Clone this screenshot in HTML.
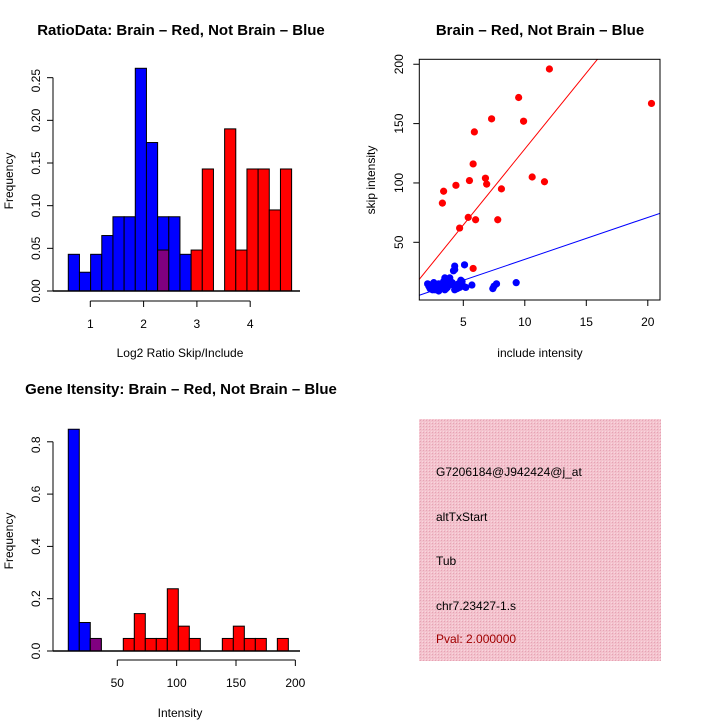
<!DOCTYPE html>
<html><head><meta charset="utf-8"><style>
body{margin:0;background:#fff}
svg text{font-family:"Liberation Sans",sans-serif;font-size:12px;fill:#000}
</style></head><body>
<svg id="s" width="720" height="720" viewBox="0 0 720 720" xmlns="http://www.w3.org/2000/svg">
<defs>
<pattern id="hatch" width="3" height="3" patternUnits="userSpaceOnUse">
<rect width="3" height="3" fill="#f3c2cd"/><rect width="1" height="1" fill="#e6a3b4"/><rect x="2" y="2" width="1" height="1" fill="#f9d6de"/>
</pattern>
</defs>
<text x="181" y="35" text-anchor="middle" font-weight="bold" style="font-size:15px">RatioData: Brain – Red, Not Brain – Blue</text>
<text x="540" y="35" text-anchor="middle" font-weight="bold" style="font-size:15px">Brain – Red, Not Brain – Blue</text>
<text x="181" y="394" text-anchor="middle" font-weight="bold" style="font-size:15px">Gene Itensity: Brain – Red, Not Brain – Blue</text>
<g id="p1"></g>
<g id="p2"></g>
<g id="p3"></g>
<g>
<rect x="419" y="419" width="242" height="242" fill="url(#hatch)"/>
<text x="436" y="476">G7206184@J942424@j_at</text>
<text x="436" y="521">altTxStart</text>
<text x="436" y="565">Tub</text>
<text x="436" y="610">chr7.23427-1.s</text>
<text x="436" y="643" style="fill:#a00000">Pval: 2.000000</text>
</g>
</svg>
<script>
// ---- data ----
const ratioBinStart = 0.587;
const ratioBinWidth = 0.2095;
const ratioBlue = [0.043,0.022,0.043,0.065,0.087,0.087,0.261,0.174,0.087,0.087,0.043,0,0,0,0,0,0,0,0,0];
const ratioRed  = [0,0,0,0,0,0,0,0,0.048,0,0,0.048,0.143,0,0.19,0.048,0.143,0.143,0.095,0.143];
const ratioYTicks = [0,0.05,0.10,0.15,0.20,0.25];
const ratioYTickLabels = ["0.00","0.05","0.10","0.15","0.20","0.25"];
const ratioXTicks = [1,2,3,4];

const redX = [12.0,9.5,20.3,7.3,9.9,5.9,5.8,10.6,6.8,5.5,11.6,6.9,4.4,8.1,3.4,3.3,5.4,6.0,7.8,4.7,5.8];
const redY = [196,172,167,154,152,143,116,105,104,102,101,99,98,95,93,83,71,69,69,62,28];
const blueX = [4.3,4.3,4.2,5.1,3.5,3.9,4.8,2.1,2.4,2.6,2.8,3.0,3.2,3.4,3.6,3.8,4.0,4.2,4.4,4.6,2.3,2.5,2.9,3.1,3.3,3.5,3.7,3.9,4.1,4.5,4.7,5.0,5.2,2.2,2.7,3.0,3.6,4.3,3.8,4.9,5.7,7.4,7.5,7.7,9.3,2.6];
const blueY = [30,27,26,31,20,20,18,15,14,16,13,15,12,17,14,18,16,14,13,15,11,10,12,11,13,10,12,15,16,11,12,13,12,13,10,9,11,10,14,17,14,11,13,15,16,12];
const redFit = [0.6,12.8];
const blueFit = [0.34,3.53];
const scX = [5,10,15,20];
const scY = [50,100,150,200];

const intBinStart = 8.7;
const intBinWidth = 9.27;
const intBlue = [0.848,0.109,0.043,0,0,0,0,0,0,0,0,0,0,0,0,0,0,0,0,0];
const intRed  = [0,0,0.048,0,0,0.048,0.143,0.048,0.048,0.238,0.095,0.048,0,0,0.048,0.095,0.048,0.048,0,0.048];
const intYTicks = [0,0.2,0.4,0.6,0.8];
const intYTickLabels = ["0.0","0.2","0.4","0.6","0.8"];
const intXTicks = [50,100,150,200];

const NS="http://www.w3.org/2000/svg";
function mk(parent,tag,attrs){const e=document.createElementNS(NS,tag);for(const k in attrs)e.setAttribute(k,attrs[k]);parent.appendChild(e);return e;}

function hist(g,o){
  const X=v=>o.x0+(v-o.xv0)*o.xs, Y=v=>o.y0-v*o.ys;
  for(let i=0;i<o.blue.length;i++){
    const a=o.start+i*o.w, b=a+o.w, bl=o.blue[i], rd=o.red[i];
    if(bl>0){const r=mk(g,'rect',{x:X(a),y:Y(bl),width:X(b)-X(a),height:Y(0)-Y(bl),fill:'#0000ff',stroke:'#000','stroke-width':1});
      
      }
    if(rd>0){
      const r=mk(g,'rect',{x:X(a),y:Y(rd),width:X(b)-X(a),height:Y(0)-Y(rd),fill:bl>0?'#800080':'#ff0000',stroke:'#000','stroke-width':1});
      
      }
  }
  mk(g,'line',{x1:53,x2:o.bx2,y1:o.y0,y2:o.y0,stroke:'#000','stroke-width':1.5});
  mk(g,'line',{x1:53,x2:53,y1:Y(o.yt[0]),y2:Y(o.yt[o.yt.length-1]),stroke:'#000'});
  o.yt.forEach((v,i)=>{mk(g,'line',{x1:47,x2:53,y1:Y(v),y2:Y(v),stroke:'#000'});
    const yy=i===o.yt.length-1?Y(v)+3:Y(v);
    const t=mk(g,'text',{x:0,y:0,transform:`translate(40,${yy}) rotate(-90)`,'text-anchor':'middle'});t.textContent=o.ytl[i];
    
    });
  const ax=o.y0+o.axOff;
  mk(g,'line',{x1:X(o.xt[0]),x2:X(o.xt[o.xt.length-1]),y1:ax,y2:ax,stroke:'#000'});
  o.xt.forEach(v=>{mk(g,'line',{x1:X(v),x2:X(v),y1:ax,y2:ax+6,stroke:'#000'});
    const t=mk(g,'text',{x:X(v),y:ax+27,'text-anchor':'middle'});t.textContent=String(v);
    
    });
  const fl=mk(g,'text',{transform:`translate(13,${o.y0-110}) rotate(-90)`,'text-anchor':'middle'});fl.textContent='Frequency';
  
  
  const xl=mk(g,'text',{x:o.xlx,y:o.xly,'text-anchor':'middle'});xl.textContent=o.xlabel;
  
  
}
hist(document.getElementById('p1'),{x0:90.3,xv0:1,xs:53.3,y0:291,ys:853.3,start:ratioBinStart,w:ratioBinWidth,blue:ratioBlue,red:ratioRed,yt:ratioYTicks,ytl:ratioYTickLabels,xt:ratioXTicks,bx2:300,axOff:10,xlabel:'Log2 Ratio Skip/Include',xlx:180,xly:357});
hist(document.getElementById('p3'),{x0:117.3,xv0:50,xs:1.187,y0:651,ys:261.5,start:intBinStart,w:intBinWidth,blue:intBlue,red:intRed,yt:intYTicks,ytl:intYTickLabels,xt:intXTicks,bx2:300,axOff:9,xlabel:'Intensity',xlx:180,xly:717});

(function(){
  const g=document.getElementById('p2');
  const L=419.3,R=660,T=59.3,B=300;
  const X=v=>463.3+(v-5)*12.3, Y=v=>242.3-(v-50)*1.187;
  const cp=mk(g,'clipPath',{id:'clip'});mk(cp,'rect',{x:L,y:T,width:R-L,height:B-T});
  const xmin=(L-463.3)/12.3+5, xmax=(R-463.3)/12.3+5;
  [[redFit,'#ff0000','red-fit-line'],[blueFit,'#0000ff','blue-fit-line']].forEach(([f,c,n])=>{
    const l=mk(g,'line',{x1:X(xmin),y1:Y(f[0]+f[1]*xmin),x2:X(xmax),y2:Y(f[0]+f[1]*xmax),stroke:c,'stroke-width':1,'clip-path':'url(#clip)'});
    
    });
  redX.forEach((x,i)=>{const c=mk(g,'circle',{cx:X(x),cy:Y(redY[i]),r:3.6,fill:'#ff0000'});
    
    });
  blueX.forEach((x,i)=>{const c=mk(g,'circle',{cx:X(x),cy:Y(blueY[i]),r:3.6,fill:'#0000ff'});
    
    });
  mk(g,'rect',{x:L,y:T,width:R-L,height:B-T,fill:'none',stroke:'#000','stroke-width':1});
  scX.forEach(v=>{mk(g,'line',{x1:X(v),x2:X(v),y1:B,y2:B+6,stroke:'#000'});
    const t=mk(g,'text',{x:X(v),y:B+26,'text-anchor':'middle'});t.textContent=String(v);
    
    });
  scY.forEach(v=>{mk(g,'line',{x1:L-6,x2:L,y1:Y(v),y2:Y(v),stroke:'#000'});
    const t=mk(g,'text',{transform:`translate(403,${Y(v)}) rotate(-90)`,'text-anchor':'middle'});t.textContent=String(v);
    
    });
  const xl=mk(g,'text',{x:540,y:357,'text-anchor':'middle'});xl.textContent='include intensity';
  
  
  const yl=mk(g,'text',{transform:'translate(375,180) rotate(-90)','text-anchor':'middle'});yl.textContent='skip intensity';
  
  
})();
</script>
</body></html>
